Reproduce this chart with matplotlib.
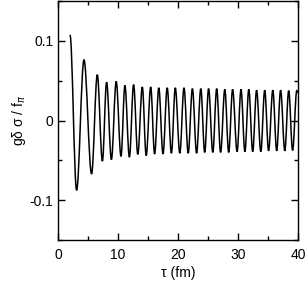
import numpy as np
import matplotlib
matplotlib.use("Agg")
import matplotlib.pyplot as plt
from matplotlib.path import Path
from matplotlib.patches import PathPatch
from matplotlib.ticker import MultipleLocator

plt.rcParams['font.family'] = ['Liberation Sans', 'DejaVu Sans']

# extrema of the oscillation (tau in fm, value)
peak_tau = [2.0, 4.33, 6.55, 8.1, 9.7, 11.15, 12.6, 14.05, 15.45, 16.8, 18.2, 19.55, 21.0,
            22.4, 23.8, 25.1, 26.45, 27.8, 29.1, 30.5, 31.8, 33.1, 34.45, 35.8, 37.1,
            38.45, 39.8]
peak_val = [0.1075, 0.076, 0.0575, 0.048, 0.049, 0.044, 0.045, 0.042, 0.042, 0.041, 0.041,
            0.041, 0.041, 0.040, 0.040, 0.040, 0.040, 0.039, 0.039, 0.039, 0.039, 0.038,
            0.038, 0.038, 0.038, 0.0375, 0.0375]
trough_tau = [3.1, 5.6, 7.4, 8.9, 10.5, 11.9, 13.3, 14.7, 16.1, 17.5, 18.9, 20.3, 21.7,
              23.1, 24.45, 25.8, 27.1, 28.45, 29.85, 31.15, 32.45, 33.8, 35.1, 36.45,
              37.8, 39.1]
trough_val = [-0.0875, -0.067, -0.051, -0.049, -0.045, -0.046, -0.0425, -0.044, -0.042,
              -0.042, -0.041, -0.041, -0.041, -0.041, -0.040, -0.040, -0.040, -0.040,
              -0.039, -0.039, -0.039, -0.039, -0.038, -0.038, -0.038, -0.0375]
end_tau = 40.0
end_val = 0.035

tau = np.array(peak_tau + trough_tau + [end_tau])
val = np.array(peak_val + trough_val + [end_val])
order = np.argsort(tau)
tau, val = tau[order], val[order]

fig = plt.figure(figsize=(3.07, 2.82), dpi=100)
ax = fig.add_axes([58 / 307, 1 - 240 / 282, 240 / 307, 239 / 282])

# smooth curve through the extrema: cubic bezier segments, flat at each extremum
verts = [(tau[0], val[0])]
codes = [Path.MOVETO]
for i in range(len(tau) - 1):
    d = tau[i + 1] - tau[i]
    verts += [(tau[i] + 0.36 * d, val[i]), (tau[i + 1] - 0.36 * d, val[i + 1]),
              (tau[i + 1], val[i + 1])]
    codes += [Path.CURVE4] * 3
ax.add_patch(PathPatch(Path(verts, codes), facecolor="none", edgecolor="black", lw=1.1))

ax.set_xlim(0, 40)
ax.set_ylim(-0.15, 0.15)
ax.xaxis.set_major_locator(MultipleLocator(10))
ax.xaxis.set_minor_locator(MultipleLocator(5))
ax.yaxis.set_minor_locator(MultipleLocator(0.05))
ax.set_yticks([-0.1, 0, 0.1])
ax.set_yticklabels(["-0.1", "0", "0.1"])
ax.tick_params(which="both", direction="in", top=True, right=True, labelsize=10, width=1.0)
ax.tick_params(which="major", length=5)
ax.tick_params(which="minor", length=3)
ax.tick_params(axis="x", pad=6)
for s in ax.spines.values():
    s.set_linewidth(1.0)

ax.set_xlabel(r"τ (fm)", fontsize=10, labelpad=3)
ax.set_ylabel(r"gδ σ / f$_\pi$", fontsize=10, labelpad=1)

fig.savefig("out.png", dpi=100)
